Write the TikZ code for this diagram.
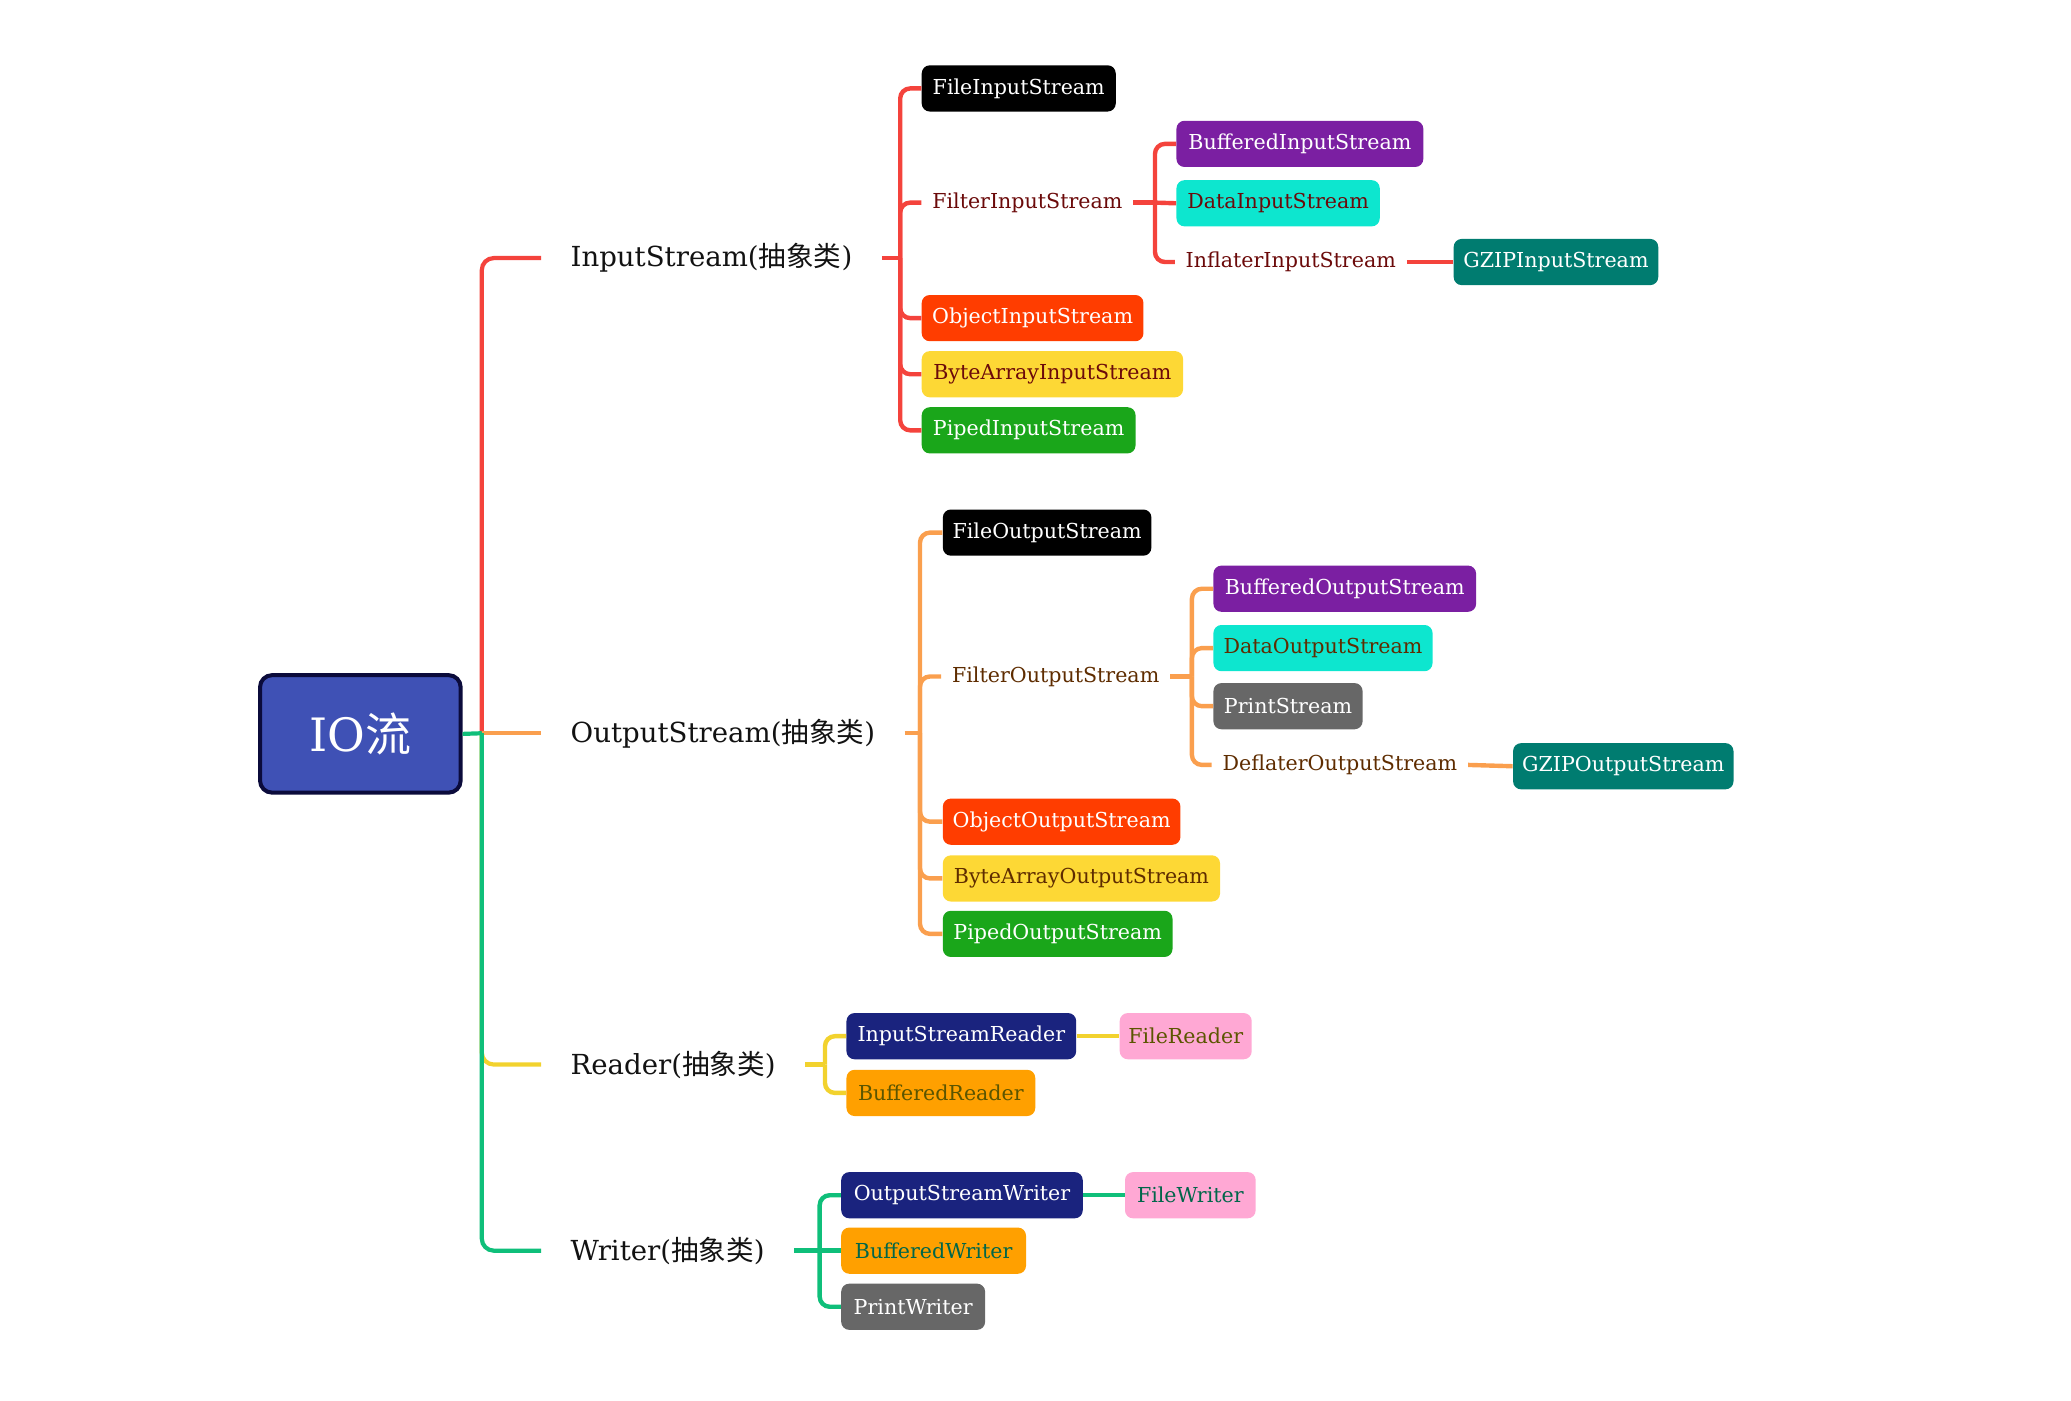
\documentclass[tikz,border=0pt]{standalone}
\usepackage{fontspec}
\setmainfont{DejaVu Serif}
\newfontfamily\cjk{Noto Sans CJK SC}
\definecolor{cRed}{HTML}{F4433C}
\definecolor{cOrg}{HTML}{FA9F4E}
\definecolor{cYel}{HTML}{F2D22E}
\definecolor{cGrn}{HTML}{0FBF7A}
\definecolor{tRed}{HTML}{6B0A0A}
\definecolor{tOrg}{HTML}{5E2C00}
\definecolor{tYel}{HTML}{5B5500}
\definecolor{tGrn}{HTML}{00664A}
\definecolor{bBlack}{HTML}{000000}
\definecolor{bObj}{HTML}{FF3D00}
\definecolor{bYel}{HTML}{FDD835}
\definecolor{bGrn}{HTML}{1AA61A}
\definecolor{bPur}{HTML}{7B1FA2}
\definecolor{bCyan}{HTML}{0DE6CF}
\definecolor{bGray}{HTML}{676767}
\definecolor{bTeal}{HTML}{007C70}
\definecolor{bNavy}{HTML}{1A237E}
\definecolor{bPink}{HTML}{FFA8D4}
\definecolor{bOrange}{HTML}{FFA000}
\definecolor{rootFill}{HTML}{3F51B5}
\definecolor{rootLine}{HTML}{0B0B3B}
\def\U{0.66pt}
\begin{document}
\begin{tikzpicture}[x=0.66pt,y=-0.66pt,
  box/.style={anchor=west, rounded corners=4pt, minimum height=35*\U, inner sep=0pt, font=\fontsize{10.3}{12}\selectfont},
  plain/.style={anchor=west, inner xsep=8*\U, inner ysep=2pt, font=\fontsize{10.3}{12}\selectfont},
  lvl/.style={anchor=west, inner xsep=22*\U, inner ysep=2pt, font=\fontsize{13.8}{16}\selectfont, text={black!93}},
  conn/.style={line width=2.2pt, rounded corners=5pt},
  trunk/.style={line width=2.1pt, rounded corners=6pt}]
\useasboundingbox (0,-2.5) rectangle (1569,1058.5);

% root
\node[draw=rootLine, fill=rootFill, line width=2pt, rounded corners=6pt,
  minimum width=152*\U, minimum height=89*\U, text=white,
  font=\fontsize{23}{27}\selectfont] (root) at (273,553.5) {IO{\cjk 流}};

% level 1
\node[lvl] (ins) at (410,193) {InputStream({\cjk 抽象类})};
\node[lvl] (outs) at (410,553) {OutputStream({\cjk 抽象类})};
\node[lvl] (rd) at (410,804) {Reader({\cjk 抽象类})};
\node[lvl] (wr) at (410,945) {Writer({\cjk 抽象类})};

\coordinate (J) at (365,553);
\draw[trunk, cRed] (J) -- (365,193) -- (ins.west);
\draw[trunk, cOrg] (J) -- (outs.west);
\draw[trunk, cYel] (J) -- (365,804) -- (rd.west);
\draw[trunk, cGrn] (J) -- (365,945) -- (wr.west);
\draw[line width=2.1pt, cGrn] (root.east) -- (J);

% InputStream children
\node[box, fill=bBlack, text=white, minimum width=147*\U] (fis) at (698,64.5) {FileInputStream};
\node[plain, text=tRed] (filti) at (698,151) {FilterInputStream};
\node[box, fill=bObj, text=white, minimum width=168*\U] (ois) at (698,238.5) {ObjectInputStream};
\node[box, fill=bYel, text=tRed, minimum width=198*\U] (bais) at (698,281) {ByteArrayInputStream};
\node[box, fill=bGrn, text=white, minimum width=162*\U] (pis) at (698,323.5) {PipedInputStream};

\node[box, fill=bPur, text=white, minimum width=187*\U] (bis) at (891,106.5) {BufferedInputStream};
\node[box, fill=bCyan, text=tRed, minimum width=154*\U] (dis) at (891,151.5) {DataInputStream};
\node[plain, text=tRed] (infl) at (890,196) {InflaterInputStream};
\node[box, fill=bTeal, text=white, minimum width=155*\U] (gzis) at (1101,196) {GZIPInputStream};

\coordinate (iB) at (682,193);
\draw[conn, cRed] (ins.east) -- (iB);
\foreach \n/\y in {fis/64.5, filti/151, ois/238.5, bais/281, pis/323.5}
  \draw[conn, cRed] (iB) -- (682,\y) -- (\n.west);
\coordinate (fiB) at (875,151);
\draw[conn, cRed] (filti.east) -- (fiB);
\foreach \n/\y in {bis/106.5, infl/196}
  \draw[conn, cRed] (fiB) -- (875,\y) -- (\n.west);
\draw[conn, cRed] (fiB) -- (dis.west);
\draw[conn, cRed] (infl.east) -- (gzis.west);

% OutputStream children
\node[box, fill=bBlack, text=white, minimum width=158*\U] (fos) at (714,401) {FileOutputStream};
\node[plain, text=tOrg] (filto) at (713,510) {FilterOutputStream};
\node[box, fill=bObj, text=white, minimum width=180*\U] (oos) at (714,620) {ObjectOutputStream};
\node[box, fill=bYel, text=tOrg, minimum width=210*\U] (baos) at (714,663) {ByteArrayOutputStream};
\node[box, fill=bGrn, text=white, minimum width=174*\U] (pos) at (714,705) {PipedOutputStream};

\node[box, fill=bPur, text=white, minimum width=199*\U] (bos) at (919,443.5) {BufferedOutputStream};
\node[box, fill=bCyan, text=tOrg, minimum width=166*\U] (dos) at (919,488.5) {DataOutputStream};
\node[box, fill=bGray, text=white, minimum width=113*\U] (ps) at (919,532.5) {PrintStream};
\node[plain, text=tOrg] (defl) at (918,577) {DeflaterOutputStream};
\node[box, fill=bTeal, text=white, minimum width=167*\U] (gzos) at (1146,578) {GZIPOutputStream};

\coordinate (oB) at (697,553);
\draw[conn, cOrg] (outs.east) -- (oB);
\foreach \n/\y in {fos/401, filto/510, oos/620, baos/663, pos/705}
  \draw[conn, cOrg] (oB) -- (697,\y) -- (\n.west);
\coordinate (foB) at (903,510);
\draw[conn, cOrg] (filto.east) -- (foB);
\foreach \n/\y in {bos/443.5, dos/488.5, ps/532.5, defl/577}
  \draw[conn, cOrg] (foB) -- (903,\y) -- (\n.west);
\draw[conn, cOrg] (defl.east) -- (gzos.west);

% Reader children
\node[box, fill=bNavy, text=white, minimum width=174*\U] (isr) at (641,782.5) {InputStreamReader};
\node[box, fill=bPink, text=tYel, minimum width=100*\U] (fr) at (848,782.5) {FileReader};
\node[box, fill=bOrange, text=tYel, minimum width=143*\U] (br) at (641,825.5) {BufferedReader};
\coordinate (rB) at (625,804);
\draw[conn, cYel] (rd.east) -- (rB);
\foreach \n/\y in {isr/782.5, br/825.5}
  \draw[conn, cYel] (rB) -- (625,\y) -- (\n.west);
\draw[conn, cYel] (isr.east) -- (fr.west);

% Writer children
\node[box, fill=bNavy, text=white, minimum width=183*\U] (osw) at (637,903) {OutputStreamWriter};
\node[box, fill=bPink, text=tGrn, minimum width=99*\U] (fw) at (852,903) {FileWriter};
\node[box, fill=bOrange, text=tGrn, minimum width=140*\U] (bw) at (637,945) {BufferedWriter};
\node[box, fill=bGray, text=white, minimum width=109*\U] (pw) at (637,987.5) {PrintWriter};
\coordinate (wB) at (621,945);
\draw[conn, cGrn] (wr.east) -- (wB);
\foreach \n/\y in {osw/903, pw/987.5}
  \draw[conn, cGrn] (wB) -- (621,\y) -- (\n.west);
\draw[conn, cGrn] (wB) -- (bw.west);
\draw[conn, cGrn] (osw.east) -- (fw.west);
\end{tikzpicture}
\end{document}
